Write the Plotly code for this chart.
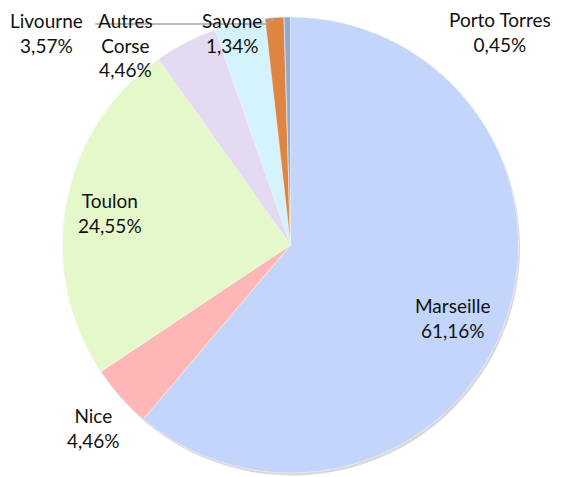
import plotly.graph_objects as go

labels = ["Marseille", "Nice", "Toulon", "Autres Corse", "Livourne", "Savone", "Porto Torres"]
values = [61.16, 4.46, 24.55, 4.46, 3.57, 1.34, 0.45]
colors = ["#c3d5fa", "#ffb6b6", "#e4f8c9", "#e4daf2", "#d5f3fd", "#dd8541", "#8eaad8"]

W, H = 586, 477
cx, cy, r = 290.5, 245, 228

def dom(dx=0, dy=0):
    return dict(x=[(cx - r + dx) / W, (cx + r + dx) / W],
                y=[1 - (cy + r + dy) / H, 1 - (cy - r + dy) / H])

fig = go.Figure()
# soft shadow
fig.add_trace(go.Pie(values=values, labels=labels, sort=False, direction="clockwise",
                     marker=dict(colors=["#d9d9d9"] * len(values), line=dict(width=0)),
                     textinfo="none", hoverinfo="skip", showlegend=False, domain=dom(1.5, 2.5)))
fig.add_trace(go.Pie(values=values, labels=labels, sort=False, direction="clockwise",
                     marker=dict(colors=colors, line=dict(color="#f4f4f4", width=0.6)),
                     textinfo="none", showlegend=False, domain=dom()))

def fmt(v):
    return f"{v:.2f}".replace(".", ",") + "%"

label_text = {
    "Marseille": "Marseille<br>" + fmt(values[0]),
    "Nice": "Nice<br>" + fmt(values[1]),
    "Toulon": "Toulon<br>" + fmt(values[2]),
    "Autres Corse": "Autres<br>Corse<br>" + fmt(values[3]),
    "Livourne": "Livourne<br>" + fmt(values[4]),
    "Savone": "Savone<br>" + fmt(values[5]),
    "Porto Torres": "Porto Torres<br>" + fmt(values[6]),
}
# label top-center positions in pixels
label_pos = {
    "Marseille": (452, 292),
    "Nice": (93, 402),
    "Toulon": (110, 187),
    "Autres Corse": (125, 7),
    "Livourne": (46, 7),
    "Savone": (232, 7),
    "Porto Torres": (500, 6),
}
for name in labels:
    x, y = label_pos[name]
    fig.add_annotation(x=x / W, y=1 - y / H, xref="paper", yref="paper",
                       xanchor="center", yanchor="top", showarrow=False,
                       text=label_text[name], align="center",
                       font=dict(family="Lato", size=19, color="#111111"))

# leader line
fig.add_shape(type="path", xref="paper", yref="paper",
              path=f"M {95/W},{1-24/H} L {267/W},{1-24/H} L {275/W},{1-18/H}",
              line=dict(color="#a6a6a6", width=1.5))

fig.update_layout(width=W, height=H, margin=dict(l=0, r=0, t=0, b=0),
                  paper_bgcolor="white", plot_bgcolor="white")
fig.write_html("out.html", config={"displayModeBar": False},
               post_script="document.body.style.margin='0';document.body.style.overflow='hidden';")
